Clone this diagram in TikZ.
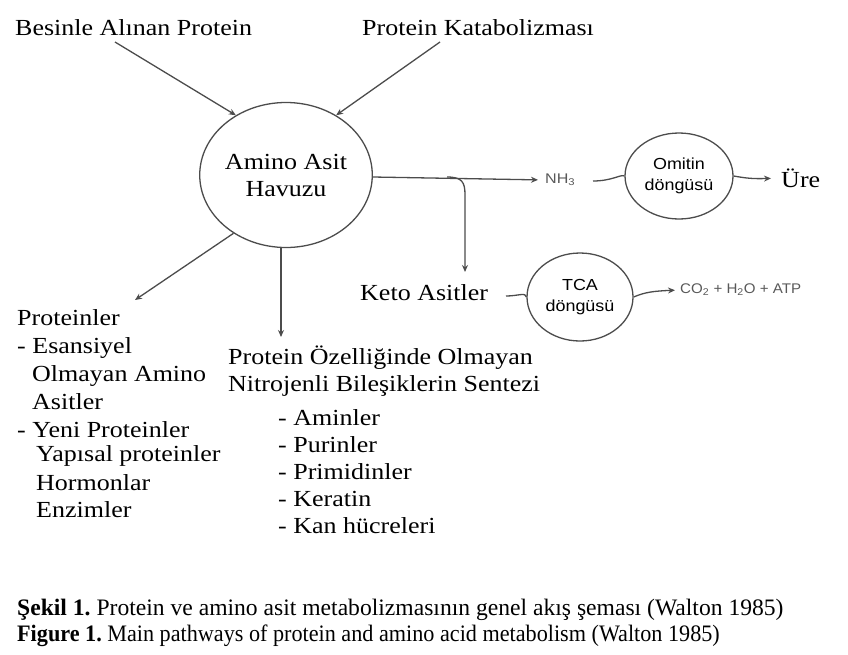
\documentclass[tikz,border=0pt]{standalone}
\usepackage{fontspec}
\usepackage{graphicx}
\setmainfont{Liberation Serif}
\newfontfamily\smallsans{Liberation Sans}
\usetikzlibrary{arrows.meta,shapes.geometric}
\newcommand\hstretch[2]{\scalebox{#1}[1]{#2}}
\frenchspacing
\begin{document}
\begin{tikzpicture}[x=1pt,y=-1pt,
  lab/.style={font=\fontsize{23}{26}\selectfont, inner sep=0pt, anchor=west, xscale=1.13},
  sml/.style={font=\smallsans\fontsize{16}{21}\selectfont, inner sep=0pt},
  arr/.style={draw=black!70, line width=1.3pt, -{Stealth[length=7pt,width=6pt]}},
  ln/.style={draw=black!70, line width=1.3pt},
  cyc/.style={draw=black!70, line width=1.3pt, ellipse, inner sep=0pt, align=center}
]
\useasboundingbox (0,0) rectangle (848,654);
% top labels
\node[lab] (besin) at (15,28) {Besinle Alınan Protein};
\node[lab] (katab) at (362,28) {Protein Katabolizması};
% pool
\node[cyc, minimum width=172pt, minimum height=145pt,
  font=\fontsize{23}{27}\selectfont] (pool) at (286,175) {\hstretch{1.13}{Amino Asit}\\\hstretch{1.13}{Havuzu}};
\coordinate (b1) at (115,42);
\coordinate (k1) at (440,42);
\draw[arr] (b1) -- (pool.130);
\draw[arr] (k1) -- (pool.50);
% NH3 branch
\node[sml, anchor=west, text=black!65, font=\smallsans\fontsize{14}{16}\selectfont] (nh3) at (545,180) {\hstretch{1.15}{NH\textsubscript{3}}};
\coordinate (j) at (447,177);
\draw[arr, shorten >=7pt] (pool.east |- j) -- (nh3.west);
\node[lab] (keto) at (360,293) {Keto Asitler};
\draw[arr] (j) .. controls (462,177) and (465,182) .. (465,195) -- (465,272);
% ornitin
\node[cyc, minimum width=108pt, minimum height=86pt, sml] (orn) at (679,176) {\hstretch{1.12}{Omitin}\\\hstretch{1.12}{döngüsü}};
\node[lab] (ure) at (781,178) {Üre};
\coordinate (n3e) at (593,181);
\draw[ln] (n3e) .. controls (612,181) and (621,174) .. (orn.west);
\draw[arr, shorten >=10pt] (orn.east) .. controls (745,178) and (752,179) .. (ure.west);
% TCA
\node[cyc, minimum width=106pt, minimum height=88pt, sml] (tca) at (580,297) {\hstretch{1.12}{TCA}\\\hstretch{1.12}{döngüsü}};
\node[sml, anchor=west, text=black!65, font=\smallsans\fontsize{14}{16}\selectfont] (co2) at (680,290) {\hstretch{1.08}{CO\textsubscript{2} + H\textsubscript{2}O + ATP}};
\coordinate (ke) at (506,296);
\draw[ln] (ke) .. controls (518,296) and (526,292) .. (tca.west);
\draw[arr, shorten >=5pt] (tca.east) .. controls (645,292) and (655,291) .. (co2.west);
% down arrows
\coordinate (pl) at (135,300);
\coordinate (pd) at (281,337);
\draw[arr] (pool.228) -- (pl);
\draw[arr] (pool.south -| pd) -- (pd);
% lists
\node[lab] (p0) at (17,318) {Proteinler};
\node[lab] (p1) at (17,348) {- Esansiyel};
\node[lab] (p2) at (32,376) {Olmayan Amino};
\node[lab] (p3) at (32,402) {Asitler};
\node[lab] (p4) at (17,430) {- Yeni Proteinler};
\node[lab] (p5) at (36,456) {Yapısal proteinler};
\node[lab] (p6) at (36,483) {Hormonlar};
\node[lab] (p7) at (36,510) {Enzimler};
\node[lab] (s0) at (228,358) {Protein Özelliğinde Olmayan};
\node[lab] (s1) at (228,386) {Nitrojenli Bileşiklerin Sentezi};
\node[lab] (s2) at (278,418) {- Aminler};
\node[lab] (s3) at (278,445) {- Purinler};
\node[lab] (s4) at (278,472) {- Primidinler};
\node[lab] (s5) at (278,499) {- Keratin};
\node[lab] (s6) at (278,526) {- Kan hücreleri};
% caption
\node[anchor=west, inner sep=0pt, font=\fontsize{23.6}{26}\selectfont, xscale=1.0] (c1) at (17,610) {\textbf{Şekil 1.} Protein ve amino asit metabolizmasının genel akış şeması (Walton 1985)};
\node[anchor=west, inner sep=0pt, font=\fontsize{23.6}{26}\selectfont, xscale=0.94] (c2) at (17,636) {\textbf{Figure 1.} Main pathways of protein and amino acid metabolism (Walton 1985)};
\end{tikzpicture}
\end{document}
